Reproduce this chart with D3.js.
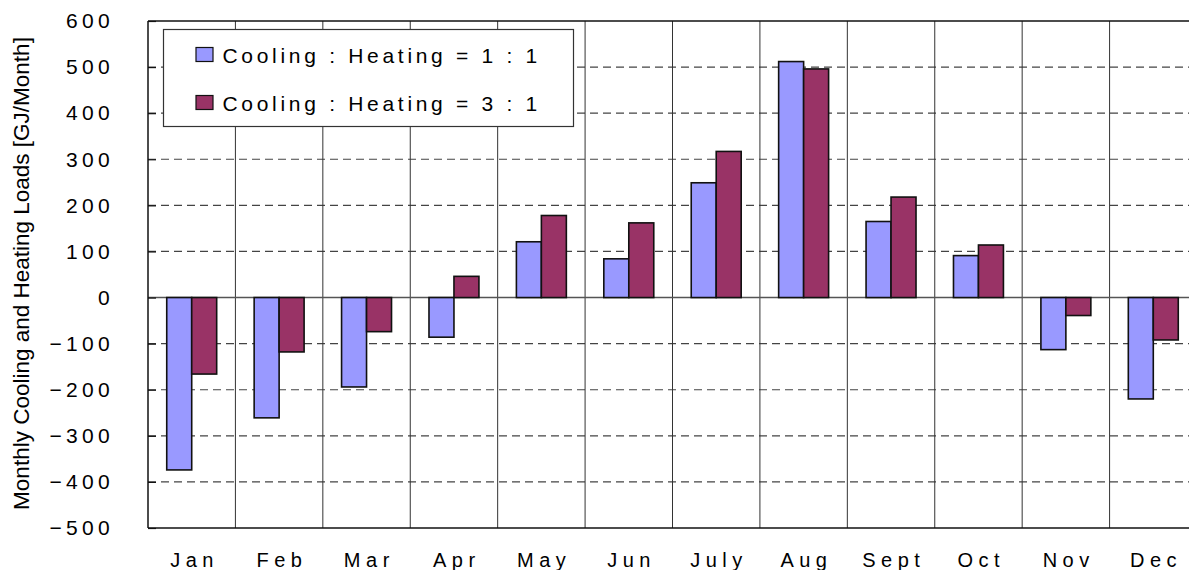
<!DOCTYPE html>
<html>
<head>
<meta charset="utf-8">
<script src="https://cdn.jsdelivr.net/npm/d3@7"></script>
<style>
  body { margin: 0; background: #fff; }
  svg { display: block; font-family: "Liberation Sans", Arial, sans-serif; }
  .y-axis .domain { display: none; }
</style>
</head>
<body>
<div id="chart"></div>
<script>
(function () {

  // data
  var months = ["Jan", "Feb", "Mar", "Apr", "May", "Jun", "July", "Aug", "Sept", "Oct", "Nov", "Dec"]
  var ratio11 = [-374, -261, -194, -86, 121, 84, 249, 512, 165, 91, -113, -220]
  var ratio31 = [-166, -118, -74, 46, 178, 162, 317, 496, 218, 114, -39, -92]
  var seriesNames = ["Cooling : Heating = 1 : 1", "Cooling : Heating = 3 : 1"]
  var seriesColors = ["#9999ff", "#993366"]
  var yTicks = [600, 500, 400, 300, 200, 100, 0, -100, -200, -300, -400, -500]

  var W = 1189, H = 570
  var left = 148, right = 1197, top = 21, bottom = 528

  var svg = d3.select("#chart").append("svg")
    .attr("width", W)
    .attr("height", H)

  var x = d3.scaleBand().domain(months).range([left, right]).padding(0)
  var xInner = d3.scaleBand().domain([0, 1]).range([0, x.bandwidth()])
    .paddingInner(0).paddingOuter(0.75)
  var y = d3.scaleLinear().domain([-500, 600]).range([bottom, top])

  var rows = months.map(function (m, i) {
    return { month: m, values: [ratio11[i], ratio31[i]] }
  })

  // dashed gridlines
  svg.append("g")
    .selectAll("line")
    .data(yTicks.filter(function (d) { return d != 0 && d != 600 && d != -500 }))
    .enter().append("line")
    .attr("x1", left).attr("x2", right)
    .attr("y1", function (d) { return y(d) }).attr("y2", function (d) { return y(d) })
    .attr("stroke", "#444")
    .attr("stroke-width", 1.2)
    .attr("stroke-dasharray", "8,5")

  // month separators
  svg.append("g")
    .selectAll("line")
    .data(months.slice(1))
    .enter().append("line")
    .attr("x1", function (d) { return x(d) }).attr("x2", function (d) { return x(d) })
    .attr("y1", top).attr("y2", bottom)
    .attr("stroke", "#333")
    .attr("stroke-width", 1)

  // zero line
  svg.append("line")
    .attr("x1", left).attr("x2", right)
    .attr("y1", y(0)).attr("y2", y(0))
    .attr("stroke", "#555")
    .attr("stroke-width", 1.5)

  // bars
  var groups = svg.selectAll(".month")
    .data(rows)
    .enter().append("g")
    .attr("class", "month")
    .attr("transform", function (d) { return "translate(" + x(d.month) + ",0)" })

  groups.selectAll("rect")
    .data(function (d) { return d.values.map(function (v, k) { return { k: k, v: v } }) })
    .enter().append("rect")
    .attr("x", function (d) { return xInner(d.k) })
    .attr("width", xInner.bandwidth())
    .attr("y", function (d) { return y(Math.max(0, d.v)) })
    .attr("height", function (d) { return Math.abs(y(d.v) - y(0)) })
    .attr("fill", function (d) { return seriesColors[d.k] })
    .attr("stroke", "#111")
    .attr("stroke-width", 1.6)

  // frame
  svg.append("line").attr("x1", left).attr("x2", right).attr("y1", top).attr("y2", top)
    .attr("stroke", "#111").attr("stroke-width", 1.5)
  svg.append("line").attr("x1", left).attr("x2", right).attr("y1", bottom).attr("y2", bottom)
    .attr("stroke", "#111").attr("stroke-width", 1.5)

  // y axis
  var yAxis = d3.axisLeft(y).tickValues(yTicks).tickSize(-8).tickPadding(34)
  var ya = svg.append("g")
    .attr("class", "axis y-axis")
    .attr("transform", "translate(" + left + ",0)")
    .call(yAxis)
  ya.selectAll(".tick line").attr("stroke", "#111").attr("stroke-width", 1.2)
  ya.selectAll("text")
    .attr("fill", "#000")
    .style("font-size", "21px")
    .style("letter-spacing", "4.3px")
    .style("font-family", "'Liberation Sans', Arial, sans-serif")
  svg.append("line").attr("x1", left).attr("x2", left).attr("y1", top).attr("y2", bottom)
    .attr("stroke", "#111").attr("stroke-width", 1.5)

  // x labels
  svg.append("g")
    .selectAll("text")
    .data(months)
    .enter().append("text")
    .attr("x", function (d) { return x(d) + x.bandwidth() / 2 + 2.8 })
    .attr("y", 567)
    .attr("text-anchor", "middle")
    .style("font-size", "20px")
    .style("letter-spacing", "5.5px")
    .text(function (d) { return d })

  // y title
  svg.append("text")
    .attr("transform", "translate(28.5,273.5) rotate(-90)")
    .attr("text-anchor", "middle")
    .style("font-size", "22.5px")
    .text("Monthly Cooling and Heating Loads [GJ/Month]")

  // legend
  var legend = svg.append("g").attr("transform", "translate(163.5,29.5)")
  legend.append("rect")
    .attr("width", 410).attr("height", 97)
    .attr("fill", "#fff")
    .attr("stroke", "#333")
    .attr("stroke-width", 1.2)
  var items = legend.selectAll(".item")
    .data(seriesNames)
    .enter().append("g")
    .attr("transform", function (d, i) { return "translate(0," + (25 + i * 48) + ")" })
  items.append("rect")
    .attr("x", 32.5).attr("y", -7)
    .attr("width", 17).attr("height", 14)
    .attr("fill", function (d, i) { return seriesColors[i] })
    .attr("stroke", "#111")
    .attr("stroke-width", 1.2)
  items.append("text")
    .attr("x", 59)
    .attr("y", 8)
    .style("font-size", "21px")
    .style("letter-spacing", "3.7px")
    .text(function (d) { return d })

})()
</script>
</body>
</html>
